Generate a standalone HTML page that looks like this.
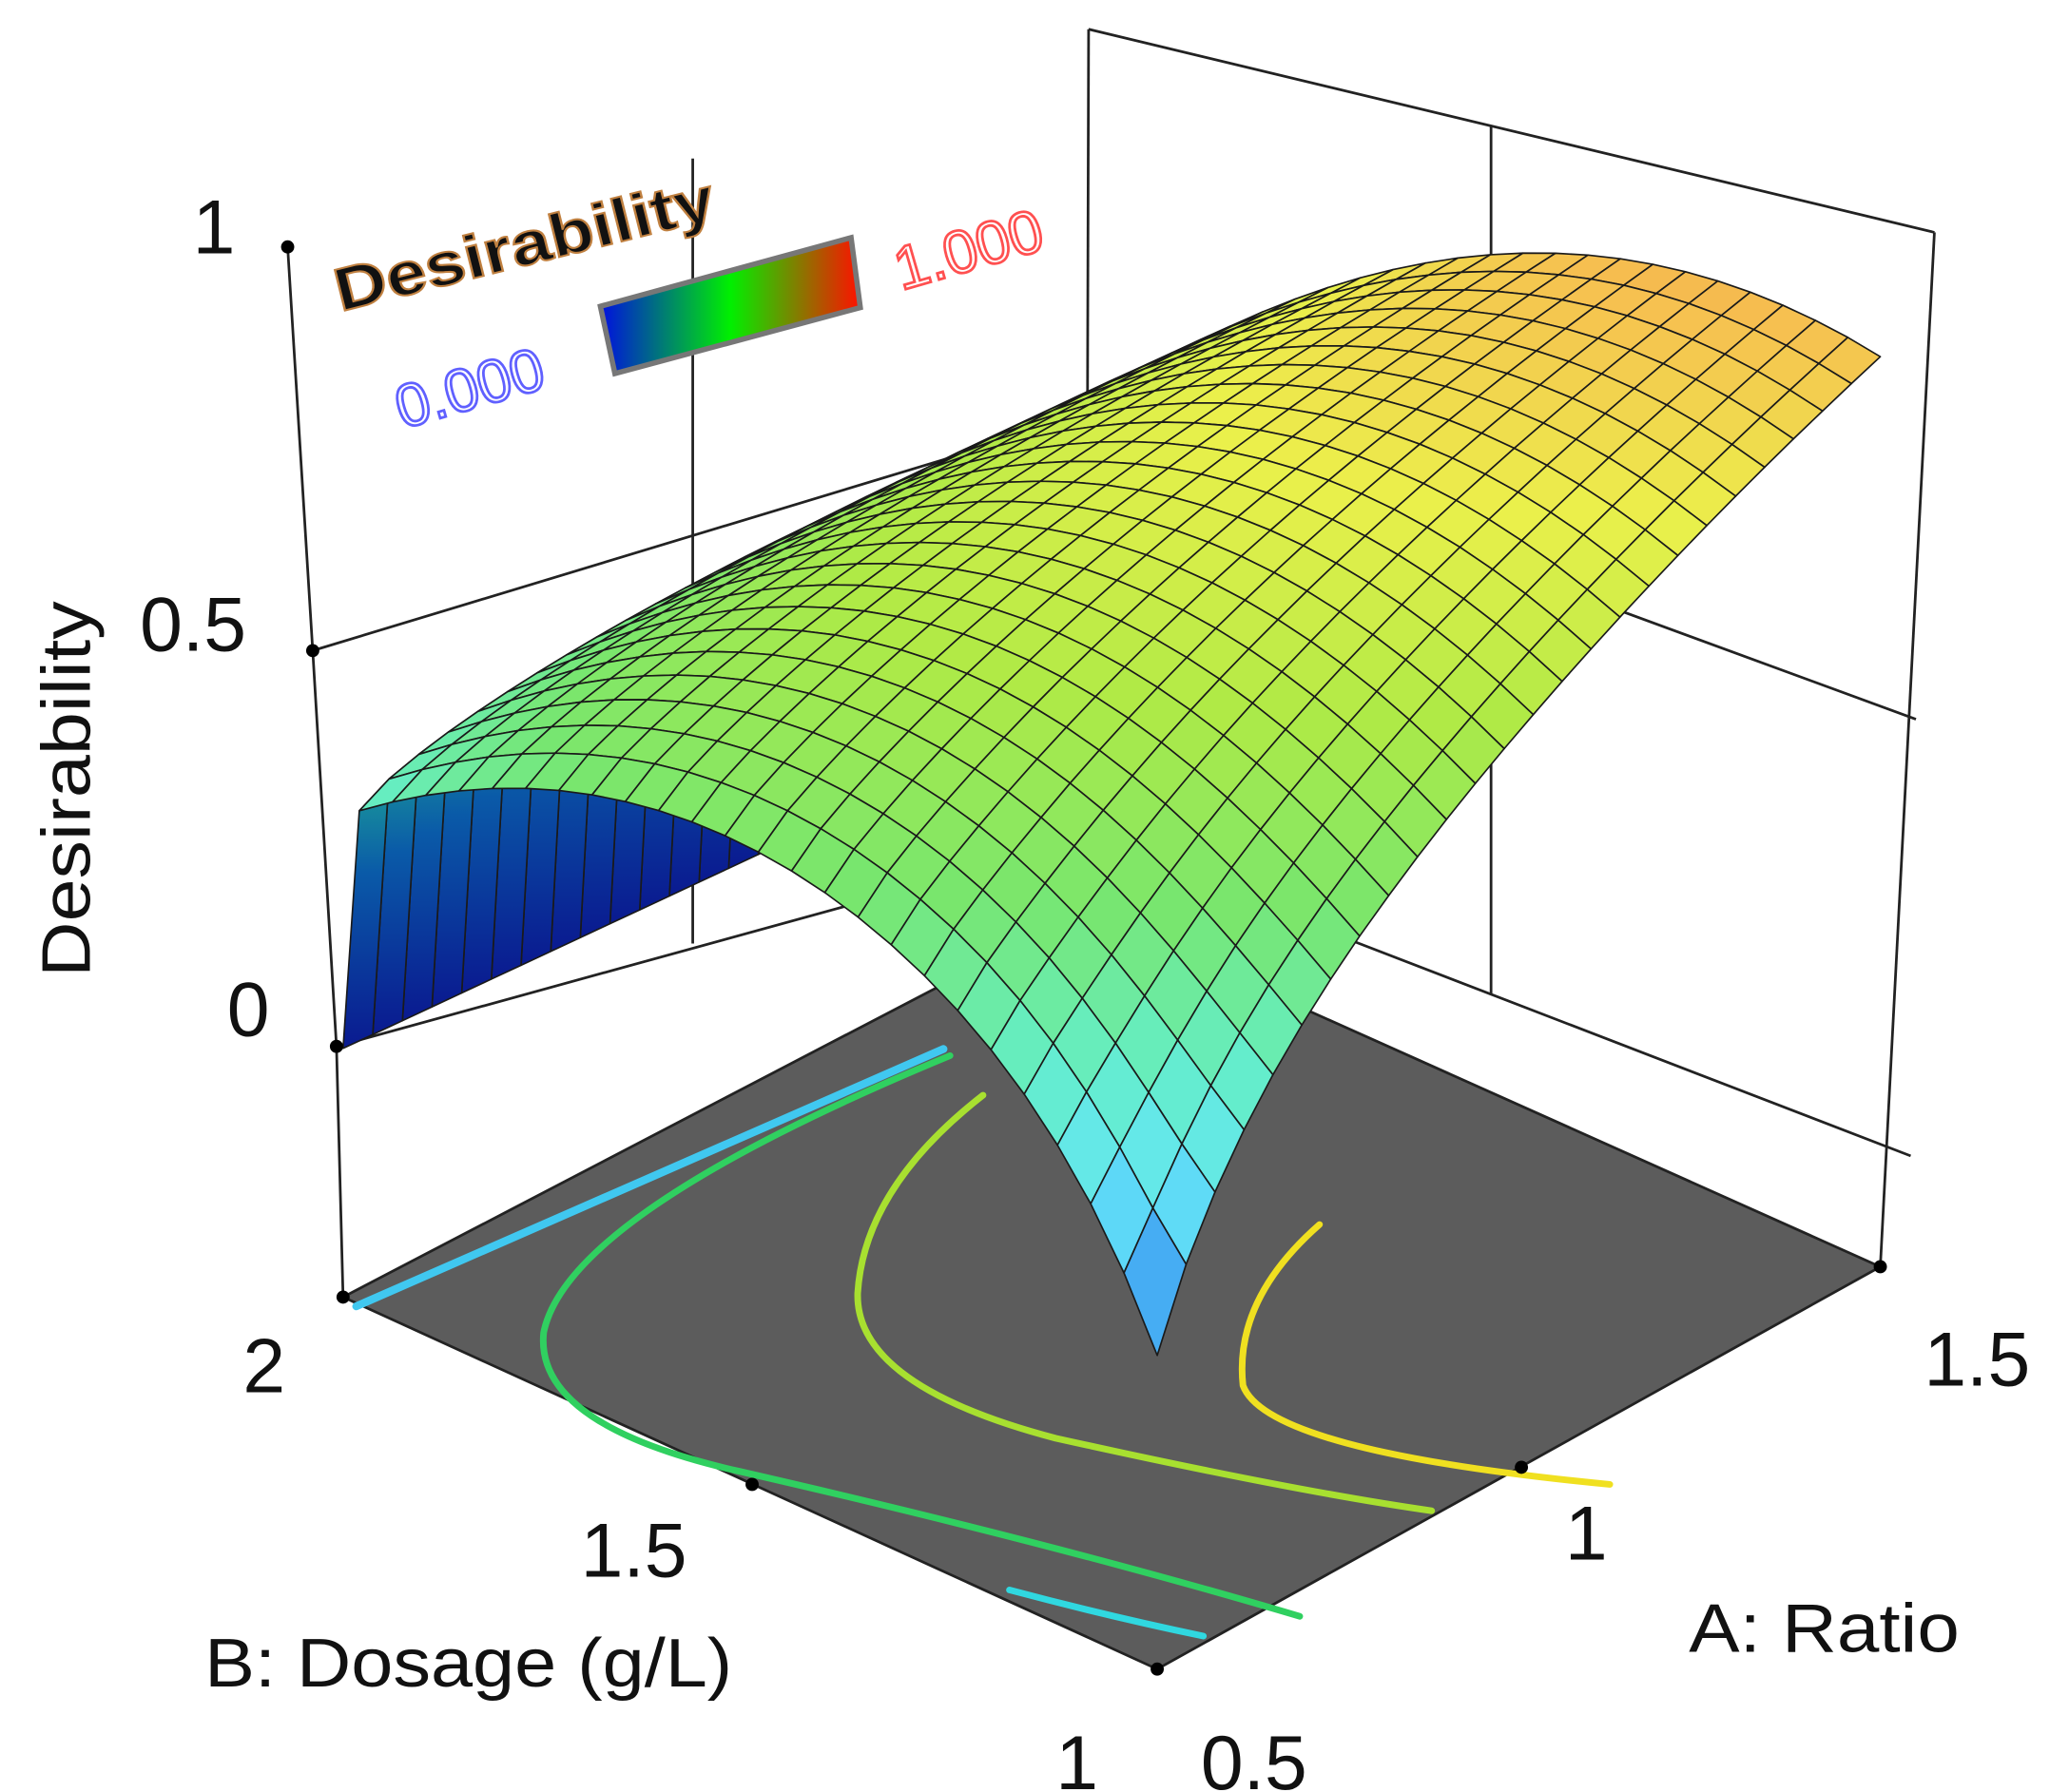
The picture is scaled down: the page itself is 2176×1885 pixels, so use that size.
<!DOCTYPE html>
<html><head><meta charset="utf-8">
<style>html,body{margin:0;padding:0;background:#fff}svg{display:block}
text{font-family:"Liberation Sans","DejaVu Sans",sans-serif}</style></head>
<body>
<svg id="s" xmlns="http://www.w3.org/2000/svg" width="2176" height="1885" viewBox="0 0 1568 1358">
<defs>
<linearGradient id="cb" x1="0" y1="0" x2="1" y2="0">
<stop offset="0" stop-color="#0010e0"/><stop offset="0.5" stop-color="#00f000"/><stop offset="1" stop-color="#ff1000"/>
</linearGradient>
<linearGradient id="cur" x1="0" y1="0" x2="0" y2="1">
<stop offset="0" stop-color="#1a9a9a"/><stop offset="0.35" stop-color="#0a5aa8"/><stop offset="1" stop-color="#0a1a90"/>
</linearGradient>
</defs>
<rect width="1568" height="1358" fill="#fff"/>
<g stroke="#222" stroke-width="2" fill="none">
<line x1="825" y1="22" x2="1466" y2="176"/>
<line x1="825" y1="22" x2="823" y2="700"/>
<line x1="1130" y1="95" x2="1130" y2="754"/>
<line x1="825" y1="315" x2="1452" y2="545"/>
<line x1="825" y1="636" x2="1448" y2="876"/>
<line x1="1466" y1="176" x2="1425" y2="960"/>
<line x1="525" y1="120" x2="525" y2="715"/>
<line x1="237" y1="493" x2="825" y2="315"/>
<line x1="255" y1="793" x2="825" y2="636"/>
<polyline points="218,187 237,493 255,793 260,983"/>
</g>
<polygon points="260,983 877,1265 1425,960 822,690" fill="#5c5c5c" stroke="#222" stroke-width="2"/>
<g fill="none" stroke-linecap="round">
<path d="M270,990 L715,795" stroke="#40c8f0" stroke-width="6"/>
<path d="M765,1205 Q840,1225 912,1240" stroke="#30d8e0" stroke-width="5"/>
<path d="M720,800 Q430,920 412,1010 Q405,1080 560,1115 Q800,1170 985,1225" stroke="#30d060" stroke-width="5"/>
<path d="M745,830 Q655,900 650,980 Q648,1050 800,1090 Q980,1130 1085,1145" stroke="#a8e030" stroke-width="5"/>
<path d="M1000,928 Q935,985 942,1050 Q960,1100 1220,1125" stroke="#f0e020" stroke-width="5"/>
</g>
<g id="surf"></g>
<g fill="#000">
<circle cx="218" cy="187" r="5"/><circle cx="237" cy="493" r="5"/><circle cx="255" cy="793" r="5"/>
<circle cx="260" cy="983" r="5"/><circle cx="570" cy="1125" r="5"/><circle cx="877" cy="1265" r="5"/>
<circle cx="1153" cy="1112" r="5"/><circle cx="1425" cy="960" r="5"/>
</g>
<g font-size="58" fill="#111">
<text x="146" y="192">1</text>
<text x="106" y="493">0.5</text>
<text x="172" y="785">0</text>
<text x="184" y="1055">2</text>
<text x="440" y="1195">1.5</text>
<text x="800" y="1356">1</text>
<text x="910" y="1356">0.5</text>
<text x="1186" y="1182">1</text>
<text x="1458" y="1050">1.5</text>
</g>
<g font-size="52" fill="#111">
<text transform="translate(68,598) rotate(-90)" text-anchor="middle" textLength="285" lengthAdjust="spacingAndGlyphs">Desirability</text>
<text x="155" y="1278" textLength="400" lengthAdjust="spacingAndGlyphs">B: Dosage (g/L)</text>
<text x="1280" y="1252" textLength="205" lengthAdjust="spacingAndGlyphs">A: Ratio</text>
</g>
<text x="258" y="236" font-size="46" font-weight="bold" fill="#111" stroke="#c08040" stroke-width="1.5" transform="rotate(-14 258 236)" textLength="295" lengthAdjust="spacingAndGlyphs">Desirability</text>
<polygon points="455,232 645,180 652,233 466,283" fill="url(#cb)" stroke="#777" stroke-width="4"/>
<text x="305" y="325" font-size="46" fill="none" stroke="#6060ff" stroke-width="2" transform="rotate(-16 305 325)">0.000</text>
<text x="683" y="220" font-size="46" fill="none" stroke="#ff5050" stroke-width="2" transform="rotate(-16 683 220)">1.000</text>
</svg>
<script>
(function(){
var P00=[260,983],P01=[877,1265],P11=[1425,960],P10=[822,690];
var S00=608,S01=650,S11=588,S10=510;
function proj(s,t,z){
 var x=(1-s)*(1-t)*P00[0]+(1-s)*t*P01[0]+s*t*P11[0]+s*(1-t)*P10[0];
 var y=(1-s)*(1-t)*P00[1]+(1-s)*t*P01[1]+s*t*P11[1]+s*(1-t)*P10[1];
 var S=(1-s)*(1-t)*S00+(1-s)*t*S01+s*t*S11+s*(1-t)*S10;
 return [x,y-(z+0.31)*S];
}
function f(s,b){
 if(b>=1.9999) return 0;
 var bp=1.55-0.33*s, K=0.84-0.08*s, E=0.46+0.44*Math.pow(s,0.8);
 var v=E-K*(b-bp)*(b-bp);
 var r=Math.sqrt(s*s+(b-1)*(b-1));
 v-=0.15*Math.exp(-r/0.12);
 return Math.max(0,v);
}
var stops=[[0,[10,30,120]],[0.08,[40,120,220]],[0.15,[80,190,250]],[0.22,[100,230,245]],[0.32,[100,238,200]],[0.45,[120,230,110]],[0.6,[175,234,70]],[0.75,[235,240,75]],[0.88,[246,192,80]],[1,[240,140,70]]];
function col(z){
 z=Math.max(0,Math.min(1,z));
 for(var i=1;i<stops.length;i++){ if(z<=stops[i][0]){var a=stops[i-1],c=stops[i],k=(z-a[0])/(c[0]-a[0]);
  return 'rgb('+[0,1,2].map(function(j){return Math.round(a[1][j]+(c[1][j]-a[1][j])*k)}).join(',')+')';}}
 return 'rgb(240,140,70)';
}
var N=25, sv=[],bv=[];
for(var i=0;i<=N;i++) sv.push(i/N);
bv.push(2); for(var j=1;j<=N;j++) bv.push(1.98-0.98*(j-1)/(N-1));
var quads=[];
for(var i=0;i<N;i++)for(var j=0;j<N;j++){
 var s0=sv[i],s1=sv[i+1],b0=bv[j],b1=bv[j+1];
 var pts=[[s0,b0],[s1,b0],[s1,b1],[s0,b1]].map(function(p){var z=f(p[0],p[1]);return {p:proj(p[0],2-p[1],z),z:z}});
 var zc=(pts[0].z+pts[1].z+pts[2].z+pts[3].z)/4;
 var sc=(s0+s1)/2, tc=2-(b0+b1)/2;
 quads.push({d:(1-sc)+tc,pts:pts,z:zc,edge:j==0});
}
quads.sort(function(a,b){return a.d-b.d});
var g=document.getElementById('surf'),h='';
quads.forEach(function(q){
 var c=q.edge?'url(#cur)':col(q.z);
 h+='<polygon points="'+q.pts.map(function(p){return p.p[0].toFixed(1)+','+p.p[1].toFixed(1)}).join(' ')+'" fill="'+c+'" stroke="#1a1a1a" stroke-width="1.2" stroke-linejoin="round"/>';
});
g.innerHTML=h;
})();
</script>
</body></html>
